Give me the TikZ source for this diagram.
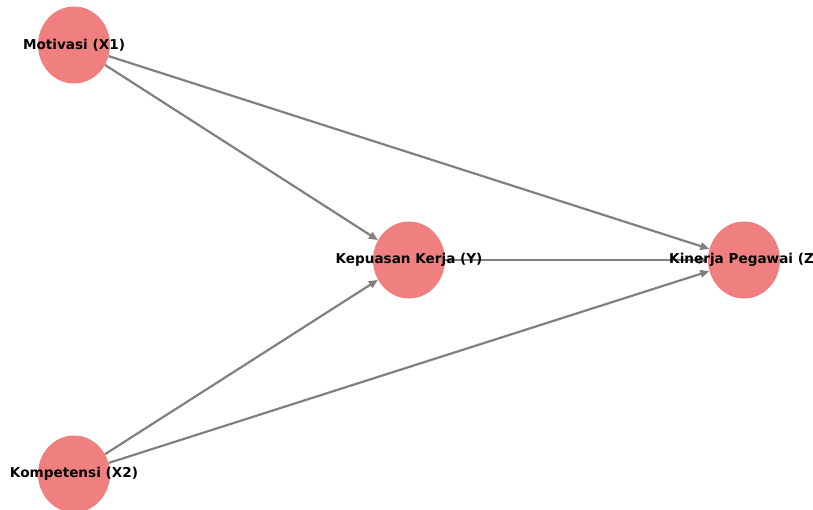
\documentclass[tikz,border=0pt]{standalone}
\usepackage{fontspec}
\setmainfont{DejaVu Sans}
\usetikzlibrary{arrows.meta,shapes.geometric}
\definecolor{nodefill}{RGB}{240,128,128}
\definecolor{edgegray}{RGB}{128,128,128}
\begin{document}
\begin{tikzpicture}[x=1pt,y=-1pt,
  vnode/.style={ellipse,fill=nodefill,minimum width=72pt,minimum height=77pt,inner sep=0pt},
  lbl/.style={font=\fontsize{13.6}{16}\selectfont\bfseries,inner sep=0pt,text=black},
  edge/.style={draw=edgegray,line width=2.2pt,-{Triangle[length=9pt,width=7.5pt]},shorten <=0pt}]
\useasboundingbox (0,0) rectangle (813,509);
\clip (0,0) rectangle (813,509);
\node[vnode] (m) at (74,45) {};
\node[vnode] (y) at (409,260) {};
\node[vnode] (z) at (744,260) {};
\node[vnode] (k) at (74,474) {};
\draw[edge] (m) -- (y);
\draw[edge] (m) -- (z);
\draw[edge] (y) -- (z);
\draw[edge] (k) -- (y);
\draw[edge] (k) -- (z);
\node[lbl] (tm) at (74,45) {Motivasi (X1)};
\node[lbl] (ty) at (409,260) {Kepuasan Kerja (Y)};
\node[lbl,anchor=west] (tz) at (669,260) {Kinerja Pegawai (Z};
\node[lbl] (tk) at (74,474) {Kompetensi (X2)};
\end{tikzpicture}
\end{document}
